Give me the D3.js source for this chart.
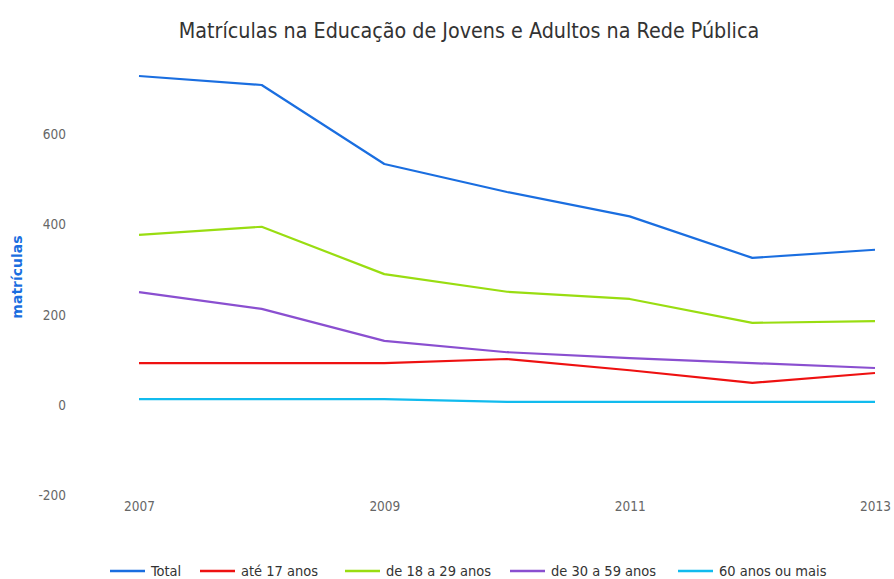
<!DOCTYPE html>
<html>
<head>
<meta charset="utf-8">
<script src="https://cdn.jsdelivr.net/npm/d3@7"></script>
<style>
  html, body { margin: 0; padding: 0; background: #fff; }
  svg { display: block; }
  text { font-family: "DejaVu Sans Condensed", "Roboto", sans-serif; }
</style>
</head>
<body>
<svg id="chart" width="894" height="579"></svg>
<script>
const years = [2007, 2008, 2009, 2010, 2011, 2012, 2013];
const yTicks = [-200, 0, 200, 400, 600];
const xTicks = [2007, 2009, 2011, 2013];

const seriesNames = ["Total", "até 17 anos", "de 18 a 29 anos", "de 30 a 59 anos", "60 anos ou mais"];
const seriesColors = ["#1a6ee0", "#ee1111", "#99dd11", "#8a4fd0", "#11bbee"];

const total      = [729, 709, 534, 472, 418, 326, 344];
const ate17      = [93, 93, 93, 102, 77, 49, 71];
const de18a29    = [377, 395, 290, 251, 235, 182, 186];
const de30a59    = [250, 213, 142, 117, 104, 93, 82];
const mais60     = [13, 13, 13, 7, 7, 7, 7];

const seriesValues = [total, ate17, de18a29, de30a59, mais60];

const svg = d3.select("#chart");

const x = d3.scaleLinear().domain([2007, 2013]).range([139, 875]);
const y = d3.scaleLinear().domain([-200, 760]).range([495.3, 62]);

// title
svg.append("text")
  .attr("x", 469).attr("y", 38)
  .attr("text-anchor", "middle")
  .attr("font-size", 21.3)
  .attr("fill", "#333")
  .text("Matrículas na Educação de Jovens e Adultos na Rede Pública");

// y axis (labels only)
const yAxis = d3.axisLeft(y).tickValues(yTicks).tickFormat(d => String(d)).tickSize(0).tickPadding(0);
const gy = svg.append("g").attr("transform", "translate(66,0)").call(yAxis);
gy.select(".domain").remove();
gy.selectAll("text").attr("font-size", 13.5).attr("fill", "#666")
  .style("font-family", '"DejaVu Sans Condensed", sans-serif');

// x axis (labels only)
const xAxis = d3.axisBottom(x).tickValues(xTicks).tickFormat(d => String(d)).tickSize(0).tickPadding(0);
const gx = svg.append("g").attr("transform", "translate(0,501)").call(xAxis);
gx.select(".domain").remove();
gx.selectAll("text").attr("font-size", 13.5).attr("fill", "#666")
  .style("font-family", '"DejaVu Sans Condensed", sans-serif');

// y axis title
svg.append("text")
  .attr("transform", "translate(22,277) rotate(-90)")
  .attr("text-anchor", "middle")
  .attr("font-size", 14)
  .attr("font-weight", "bold")
  .attr("fill", "#1a6ee0")
  .style("font-family", '"DejaVu Sans", sans-serif')
  .text("matrículas");

// lines
const line = d3.line()
  .x((d, i) => x(years[i]))
  .y(d => y(d));

seriesValues.forEach((vals, i) => {
  svg.append("path")
    .datum(vals)
    .attr("fill", "none")
    .attr("stroke", seriesColors[i])
    .attr("stroke-width", 2.2)
    .attr("stroke-linejoin", "round")
    .attr("d", line);
});

// legend
const legendX = [110, 200, 345, 510, 678];
const legend = svg.append("g").attr("transform", "translate(0,571)");
seriesNames.forEach((name, i) => {
  const g = legend.append("g").attr("transform", `translate(${legendX[i]},0)`);
  g.append("line").attr("x1", 0).attr("x2", 35).attr("y1", 0).attr("y2", 0)
    .attr("stroke", seriesColors[i]).attr("stroke-width", 2.5);
  g.append("text").attr("x", 41).attr("y", 4.5)
    .attr("font-size", 14.5).attr("fill", "#333")
    .text(name);
});
</script>
</body>
</html>
